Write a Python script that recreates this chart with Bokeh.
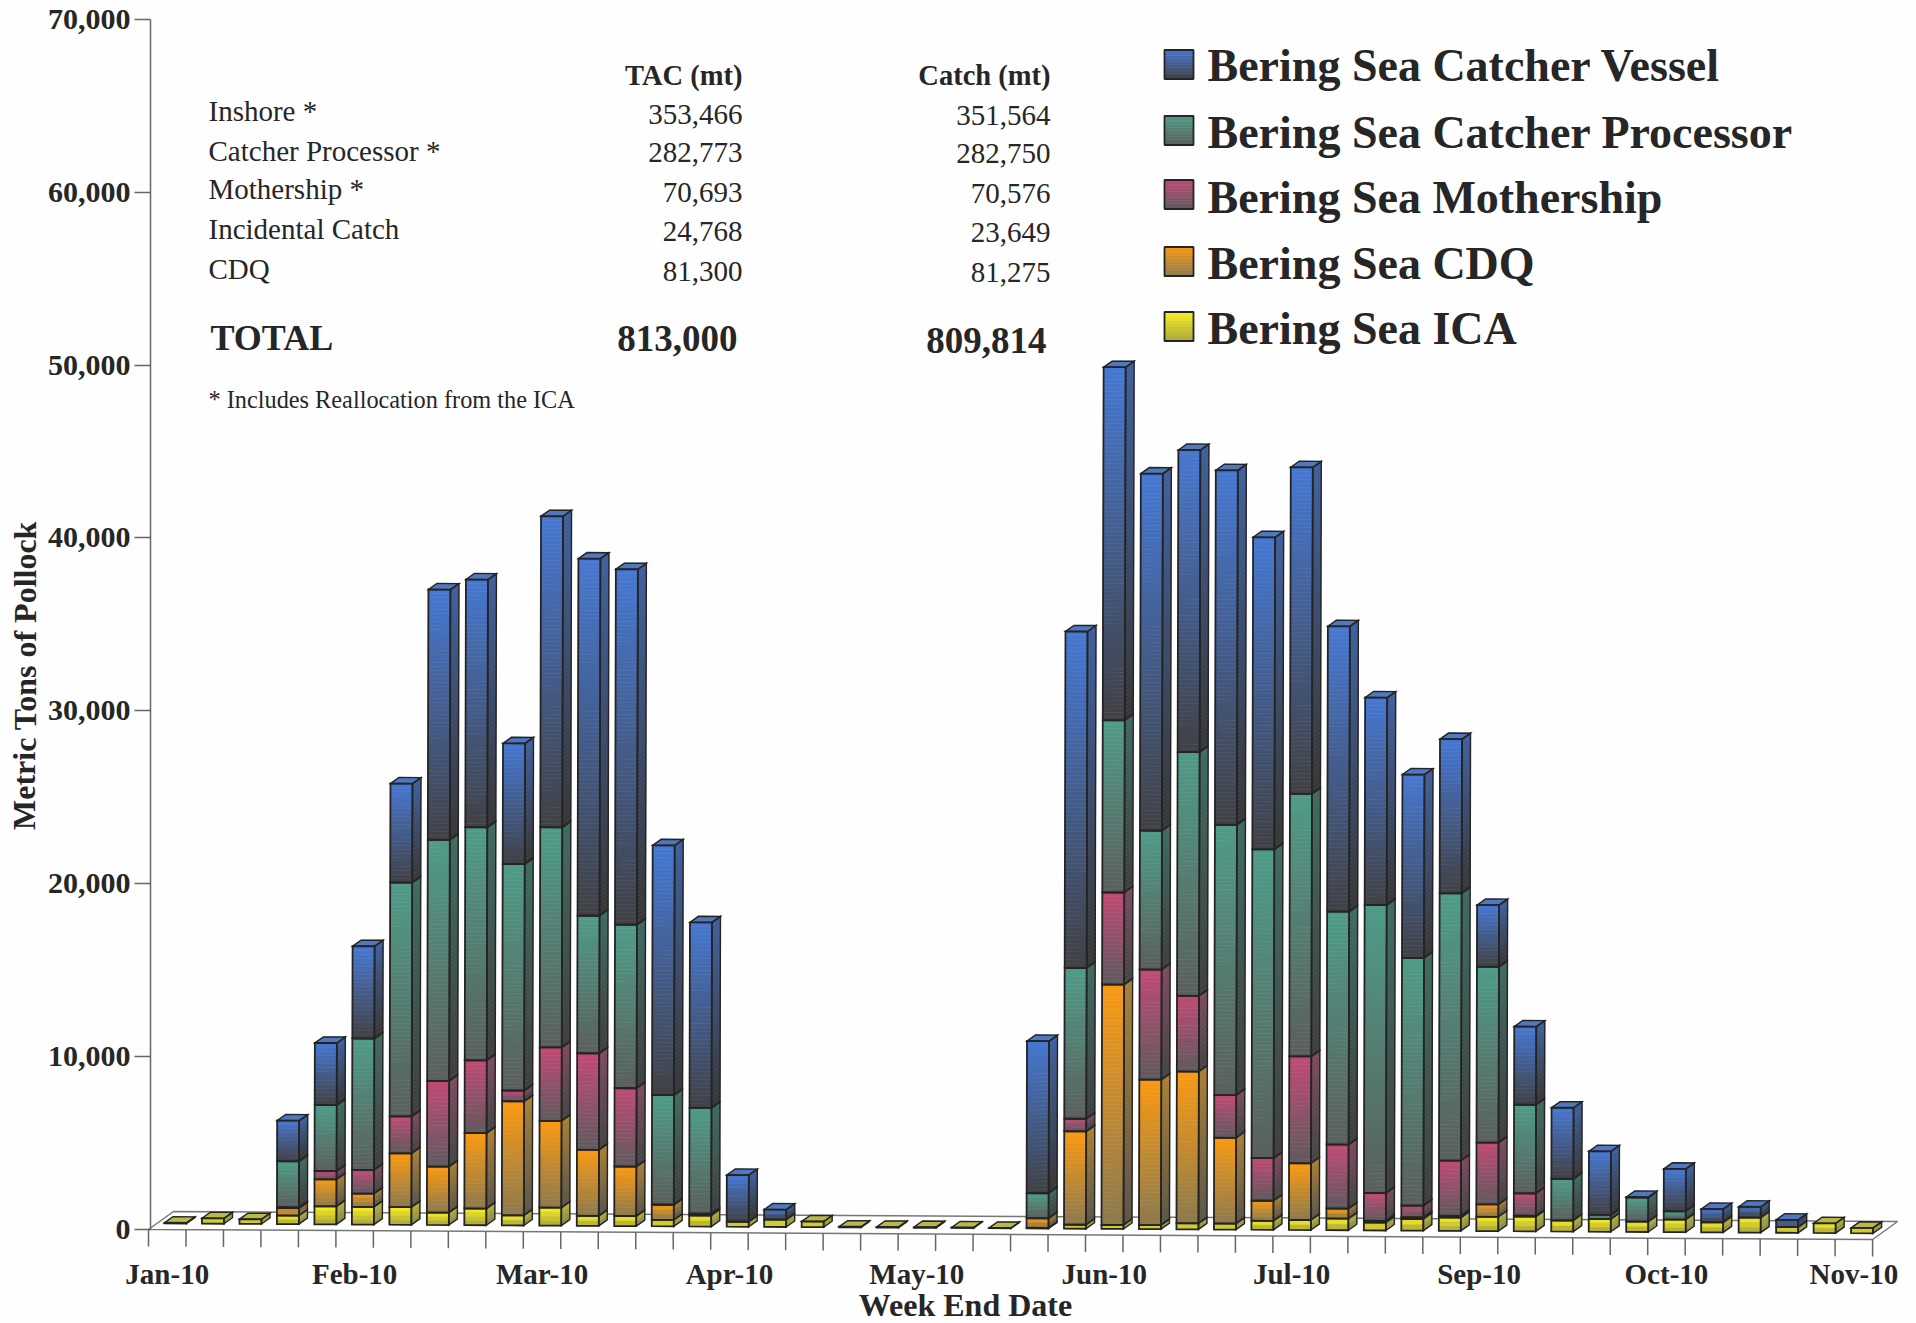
from bokeh.plotting import figure
from bokeh.models import ColumnDataSource, Label, FixedTicker, Range1d, LinearAxis
from bokeh.embed import file_html
from bokeh.resources import INLINE

# ---------- data ----------
MONTH_LABELS = ["Jan-10", "Feb-10", "Mar-10", "Apr-10", "May-10", "Jun-10", "Jul-10", "Sep-10", "Oct-10", "Nov-10"]
WEEKS = list(range(1, 47))
ICA = [40, 310, 270, 500, 1040, 1020, 1020, 715, 965, 580, 1040, 580, 580, 370, 640, 290, 425, 330, 40, 40, 40, 30, 20,
       40, 230, 230, 230, 350, 350, 520, 580, 675, 460, 675, 770, 830, 850, 640, 730, 600, 730, 580, 870, 330, 560, 310]
CDQ = [0, 0, 0, 425, 1560, 770, 3110, 2660, 4360, 6600, 5020, 3820, 2860, 870, 100, 0, 0, 0, 0, 0, 0, 0, 0,
       550, 5400, 13900, 8415, 8780, 4960, 1160, 3280, 580, 100, 100, 100, 715, 50, 0, 0, 0, 0, 0, 0, 0, 0, 0]
MOTHERSHIP = [0, 0, 0, 50, 480, 1370, 2140, 4960, 4210, 620, 4250, 5580, 4535, 20, 0, 0, 0, 0, 0, 0, 0, 0, 0,
              0, 730, 5330, 6370, 4380, 2470, 2470, 6180, 3700, 1600, 675, 3190, 3570, 1290, 0, 0, 0, 0, 0, 0, 0, 0, 0]
CATCHER_PROCESSOR = [0, 0, 0, 2660, 3820, 7600, 13520, 13940, 13480, 13100, 12730, 7960, 9455, 6330, 6120, 0, 0, 0, 0, 0, 0, 0, 0,
                     1450, 8720, 9960, 8030, 14090, 15630, 17850, 15190, 13470, 16660, 14320, 15460, 10170, 5130, 2410, 250, 1390, 480, 0, 0, 0, 0, 0]
CATCHER_VESSEL = [0, 0, 0, 2355, 3590, 5340, 5730, 14476, 14325, 6980, 17990, 20650, 20560, 14440, 10730, 2700, 580, 0, 0, 0, 0, 0, 0,
                  8800, 19460, 20420, 20650, 17470, 20500, 18050, 18880, 16500, 12000, 10610, 8920, 3570, 4520, 4110, 3670, 30, 2450, 770, 620, 420, 0, 0]
SERIES_NAMES = ["Bering Sea Catcher Vessel", "Bering Sea Catcher Processor", "Bering Sea Mothership", "Bering Sea CDQ", "Bering Sea ICA"]
TABLE_ROWS = ["Inshore *", "Catcher Processor *", "Mothership *", "Incidental Catch", "CDQ"]
TABLE_TAC = ["353,466", "282,773", "70,693", "24,768", "81,300"]
TABLE_CATCH = ["351,564", "282,750", "70,576", "23,649", "81,275"]

# ---------- layout (pixel calibration of the page) ----------
BAND = 37.48          # px per week
PXV = 0.01729         # px per metric ton
X = lambda px: (px - 148) / BAND
Y = lambda py: (1229 - py) / PXV
BAR_W = 22 / BAND
FLOOR_DX, FLOOR_DY = 25 / BAND, 18 / PXV
BAR_DX, BAR_DY = 8.5 / BAND, 6.0 / PXV
OFF_DX, OFF_DY = 8.25 / BAND, 6.2 / PXV
TILT_Y = 10 / 46 / PXV          # scan tilt: floor drifts down to the right
TILT_X = 3 / 1210 * PXV / BAND  # scan tilt: tall bars lean right

def pt(k, v, dx=0.0, dy=0.0):
    """week position k and value v to tilted data coordinates"""
    return k + dx + TILT_X * v, v + dy - TILT_Y * k

FONT = "Liberation Serif"
INK = "#262626"

# series order bottom to top: (front top, front bottom, side top, side bottom, top face)
STYLE = [
    (ICA, "#fbf01e", "#a8a63c", "#b5b340", "#8a8945", "#b9b84a"),
    (CDQ, "#fa9a12", "#8c7a4e", "#a87f35", "#5a5548", "#c08a30"),
    (MOTHERSHIP, "#c24a76", "#5f5a5e", "#7d4a60", "#444444", "#a84a6c"),
    (CATCHER_PROCESSOR, "#4f9c88", "#5a5f5d", "#3e6a60", "#3e3e3e", "#4f8f7f"),
    (CATCHER_VESSEL, "#4678d2", "#414145", "#3f5f9c", "#363636", "#4f78c0"),
]

def mix(c1, c2, t):
    a = [int(c1[i:i + 2], 16) for i in (1, 3, 5)]
    b = [int(c2[i:i + 2], 16) for i in (1, 3, 5)]
    return "#%02x%02x%02x" % tuple(round(p + (q - p) * t) for p, q in zip(a, b))

p = figure(width=1916, height=1323, output_backend="svg", toolbar_location=None,
           x_range=Range1d(X(0), X(1916)), y_range=Range1d(Y(1323), Y(0)),
           x_axis_location=None, y_axis_location=None,
           min_border=0, min_border_left=0, min_border_right=0, min_border_top=0, min_border_bottom=0,
           background_fill_color="#fefefe", border_fill_color="#fefefe", outline_line_color=None)
p.grid.visible = False

# ---------- axes ----------
ya = LinearAxis(fixed_location=X(150))
ya.bounds = (0, 70000)
ya.ticker = FixedTicker(ticks=list(range(0, 70001, 10000)))
ya.major_label_overrides = {v: f"{v:,}" for v in range(0, 70001, 10000)}
ya.major_tick_out, ya.major_tick_in = 16, 0
ya.minor_tick_line_color = None
ya.major_label_standoff = 4
ya.axis_line_color = ya.major_tick_line_color = "#666666"
ya.axis_line_width = ya.major_tick_line_width = 1.5
ya.major_label_text_font = FONT
ya.major_label_text_font_style = "bold"
ya.major_label_text_font_size = "30px"
ya.major_label_text_color = INK
p.add_layout(ya, "left")

label_pos = [0.5 + 5 * j for j in range(len(MONTH_LABELS))]
xa = LinearAxis(fixed_location=Y(1256))
xa.ticker = FixedTicker(ticks=label_pos)
xa.major_label_overrides = dict(zip(label_pos, MONTH_LABELS))
xa.axis_line_color = None
xa.major_tick_line_color = None
xa.minor_tick_line_color = None
xa.major_tick_out = 0
xa.major_label_standoff = 1
xa.major_label_text_font = FONT
xa.major_label_text_font_style = "bold"
xa.major_label_text_font_size = "29px"
xa.major_label_text_color = INK
p.add_layout(xa, "below")

# ---------- floor ----------
n = len(WEEKS)
corners = [pt(0, 0), pt(n, 0), pt(n, 0, FLOOR_DX, FLOOR_DY), pt(0, 0, FLOOR_DX, FLOOR_DY), pt(0, 0)]
p.line([c[0] for c in corners], [c[1] for c in corners], line_color="#777777", line_width=1.5)
tx, ty = [], []
for k in range(n + 1):
    a = pt(k, 0)
    tx.append([a[0], a[0]])
    ty.append([a[1], a[1] - 17 / PXV])
p.multi_line(tx, ty, line_color="#666666", line_width=1.5)

# ---------- bars ----------
fills = dict(xs=[], ys=[], c=[])
edges = dict(xs=[], ys=[], w=[])

def add_fill(coords, color):
    fills["xs"].append([c[0] for c in coords])
    fills["ys"].append([c[1] for c in coords])
    fills["c"].append(color)

def add_edge(coords, w):
    edges["xs"].append([c[0] for c in coords])
    edges["ys"].append([c[1] for c in coords])
    edges["w"].append(w)

for idx in range(n):
    base = 0
    top_face = None
    xl = idx + (1 - BAR_W) / 2 + OFF_DX
    xr = xl + BAR_W
    for vals, ft, fb, st, sb, tf in STYLE:
        v = vals[idx]
        if v <= 0:
            continue
        lo, hi = base, base + v
        slices = max(1, int(v * PXV / 4))
        for s in range(slices):
            v1 = hi - v * s / slices
            v0 = hi - v * (s + 1) / slices
            t = (s + 0.5) / slices
            add_fill([pt(xl, v0, 0, OFF_DY), pt(xr, v0, 0, OFF_DY), pt(xr, v1, 0, OFF_DY), pt(xl, v1, 0, OFF_DY)], mix(ft, fb, t))
            add_fill([pt(xr, v0, 0, OFF_DY), pt(xr, v0, BAR_DX, OFF_DY + BAR_DY), pt(xr, v1, BAR_DX, OFF_DY + BAR_DY), pt(xr, v1, 0, OFF_DY)], mix(st, sb, t))
        add_edge([pt(xr, lo, 0, OFF_DY), pt(xr, lo, BAR_DX, OFF_DY + BAR_DY), pt(xr, hi, BAR_DX, OFF_DY + BAR_DY), pt(xr, hi, 0, OFF_DY)], 1.4)
        add_edge([pt(xl, lo, 0, OFF_DY), pt(xr, lo, 0, OFF_DY), pt(xr, hi, 0, OFF_DY), pt(xl, hi, 0, OFF_DY)], 1.8)
        base = hi
        top_face = tf
    if top_face is None:
        continue
    tq = [pt(xl, base, 0, OFF_DY), pt(xr, base, 0, OFF_DY), pt(xr, base, BAR_DX, OFF_DY + BAR_DY), pt(xl, base, BAR_DX, OFF_DY + BAR_DY)]
    add_fill(tq, top_face)
    add_edge(tq, 1.4)

p.patches("xs", "ys", fill_color="c", line_color="c", line_width=0.6, source=ColumnDataSource(fills))
p.patches("xs", "ys", fill_color=None, line_color="#242424", line_width="w", line_join="miter", source=ColumnDataSource(edges))

# ---------- legend (hand built because of the gradient swatches) ----------
def txt(px, py, s, size, bold=False, align="left", angle=0):
    p.add_layout(Label(x=X(px), y=Y(py), text=s, text_font=FONT, text_font_size=f"{size}px",
                       text_font_style="bold" if bold else "normal", text_align=align,
                       text_baseline="middle", text_color=INK, angle=angle))

legend_style = list(reversed(STYLE))
swatch_y = [64, 130, 194, 261, 326]
text_y = [65, 132, 197, 263, 328]
sw = dict(l=[], r=[], t=[], b=[], c=[])
for (vals, ft, fb, *_), cy in zip(legend_style, swatch_y):
    for s in range(10):
        sw["l"].append(X(1164)); sw["r"].append(X(1193))
        sw["t"].append(Y(cy - 14.5 + 2.9 * s)); sw["b"].append(Y(cy - 14.5 + 2.9 * (s + 1)))
        sw["c"].append(mix(ft, fb, (s + 0.5) / 10))
p.quad(left="l", right="r", top="t", bottom="b", fill_color="c", line_color="c", line_width=0.5, source=ColumnDataSource(sw))
p.quad(left=[X(1164)] * 5, right=[X(1193)] * 5, top=[Y(c - 14.5) for c in swatch_y], bottom=[Y(c + 14.5) for c in swatch_y],
       fill_color=None, line_color="#242424", line_width=1.8)
for name, ty_ in zip(SERIES_NAMES, text_y):
    txt(1207, ty_, name, 46, bold=True)

# ---------- table ----------
txt(742, 75, "TAC (mt)", 28.5, bold=True, align="right")
txt(1050, 75, "Catch (mt)", 28.5, bold=True, align="right")
for row, tac, catch, ry, ny in zip(TABLE_ROWS, TABLE_TAC, TABLE_CATCH, [110, 150, 188, 228, 268], [114, 152, 192, 231, 271]):
    txt(208, ry, row, 29)
    txt(742, ny, tac, 29, align="right")
    txt(1050, ny + 1, catch, 29, align="right")
txt(210, 337, "TOTAL", 36, bold=True)
txt(737, 338, "813,000", 37, bold=True, align="right")
txt(1046, 340, "809,814", 37, bold=True, align="right")
txt(208, 399, "* Includes Reallocation from the ICA", 24.3)

# ---------- axis titles ----------
txt(965, 1304, "Week End Date", 32, bold=True, align="center")
txt(24, 675, "Metric Tons of Pollock", 32, bold=True, align="center", angle=1.5707963)

open("out.html", "w").write(file_html(p, INLINE))
